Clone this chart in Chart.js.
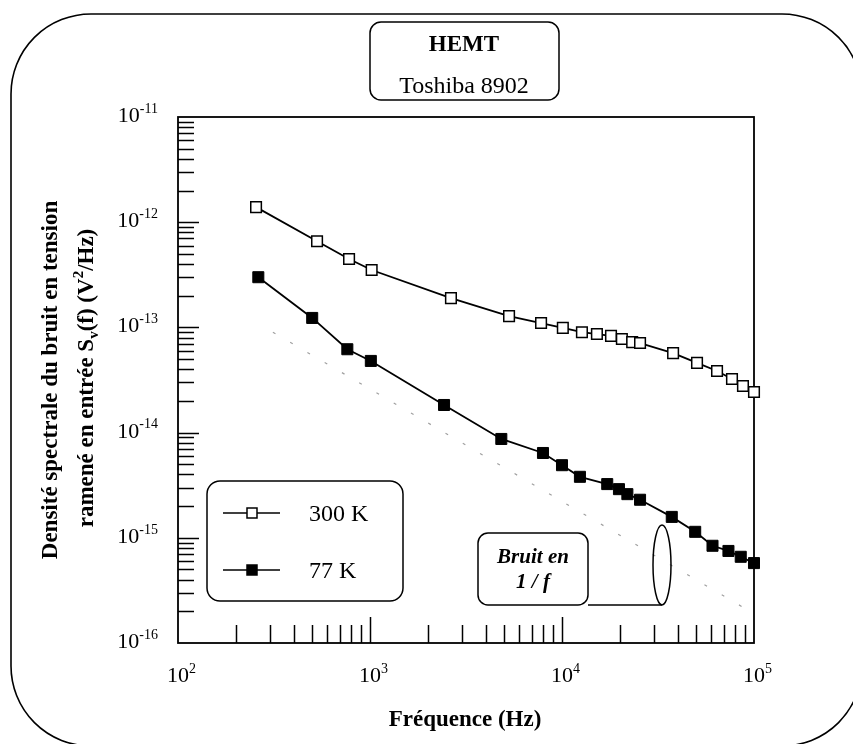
<!DOCTYPE html>
<html>
<head>
<meta charset="utf-8">
<script src="https://cdn.jsdelivr.net/npm/chart.js@4.4.1/dist/chart.umd.min.js"></script>
<style>
  html, body { margin: 0; padding: 0; background: #fff; }
  canvas { display: block; }
</style>
</head>
<body>
<canvas id="c" width="853" height="744"></canvas>
<script>
// HEMT Toshiba 8902 - input voltage noise spectral density
const freq300 = [255, 530, 778, 1020, 2640, 5300, 7780, 10100, 12700, 15200, 18000, 20500, 23200, 25500, 37900, 50500, 64200, 76800, 87600, 100000];
const sv300 = [1.39e-12, 6.6e-13, 4.47e-13, 3.51e-13, 1.9e-13, 1.28e-13, 1.1e-13, 9.9e-14, 9.0e-14, 8.65e-14, 8.3e-14, 7.75e-14, 7.25e-14, 7.1e-14, 5.7e-14, 4.6e-14, 3.85e-14, 3.23e-14, 2.77e-14, 2.43e-14];

const freq77 = [262, 500, 762, 1010, 2430, 4830, 7960, 10000, 12400, 17200, 19800, 21900, 25500, 37300, 49400, 60800, 73600, 85300, 100000];
const sv77 = [3.0e-13, 1.23e-13, 6.2e-14, 4.8e-14, 1.83e-14, 8.7e-15, 6.4e-15, 4.9e-15, 3.8e-15, 3.24e-15, 2.9e-15, 2.6e-15, 2.3e-15, 1.58e-15, 1.14e-15, 8.4e-16, 7.5e-16, 6.6e-16, 5.75e-16];

// 1/f guide line (dotted)
const guideFreq = [312, 100000];
const guideSv = [9.0e-14, 1.9e-16];

const xTickExp = [2, 3, 4, 5];
const yTickExp = [-11, -12, -13, -14, -15, -16];

const serif = '"Liberation Serif", "Times New Roman", Times, serif';

function pts(xs, ys) { return xs.map((x, i) => ({ x: x, y: ys[i] })); }

function rrect(ctx, x, y, w, h, r) {
  ctx.beginPath();
  ctx.moveTo(x + r, y);
  ctx.arcTo(x + w, y, x + w, y + h, r);
  ctx.arcTo(x + w, y + h, x, y + h, r);
  ctx.arcTo(x, y + h, x, y, r);
  ctx.arcTo(x, y, x + w, y, r);
  ctx.closePath();
}

// parts: [text, kind] kind 0 normal, 1 superscript, -1 subscript
function rich(ctx, parts, x, y, size, opts) {
  opts = opts || {};
  const f = s => (opts.italic ? 'italic ' : '') + (opts.bold ? 'bold ' : '') + s + 'px ' + serif;
  const small = Math.round(size * 0.64);
  let total = 0;
  parts.forEach(p => { ctx.font = f(p[1] ? small : size); total += ctx.measureText(p[0]).width; });
  let cx = opts.align === 'center' ? x - total / 2 : opts.align === 'right' ? x - total : x;
  ctx.textAlign = 'left';
  ctx.textBaseline = 'alphabetic';
  parts.forEach(p => {
    ctx.font = f(p[1] ? small : size);
    const dy = p[1] === 1 ? -size * 0.42 : p[1] === -1 ? size * 0.2 : 0;
    ctx.fillText(p[0], cx, y + dy);
    cx += ctx.measureText(p[0]).width;
  });
}

function marker(ctx, x, y, filled) {
  ctx.beginPath();
  ctx.rect(x - 5, y - 5, 10, 10);
  ctx.fillStyle = filled ? '#000' : '#fff';
  ctx.fill();
  ctx.lineWidth = 1.5;
  ctx.strokeStyle = '#000';
  ctx.stroke();
}

const figure = {
  id: 'figure',
  beforeDatasetsDraw(chart) {
    const ctx = chart.ctx, a = chart.chartArea;
    const xs = chart.scales.x, ys = chart.scales.y;
    ctx.save();
    ctx.strokeStyle = '#000';
    ctx.fillStyle = '#000';

    // outer rounded frame
    ctx.lineWidth = 1.6;
    rrect(ctx, 11, 14, 851, 732, 80);
    ctx.stroke();

    // plot frame
    ctx.lineWidth = 1.8;
    ctx.strokeRect(a.left, a.top, a.right - a.left, a.bottom - a.top);

    // inward ticks
    ctx.lineWidth = 1.5;
    ctx.beginPath();
    for (let d = -16; d < -11; d++) {
      for (let m = 1; m <= 9; m++) {
        if (d === -16 && m === 1) continue;
        const py = Math.round(ys.getPixelForValue(m * Math.pow(10, d))) + 0.5;
        const len = m === 1 ? 21 : 16;
        ctx.moveTo(a.left, py);
        ctx.lineTo(a.left + len, py);
      }
    }
    for (let d = 2; d < 5; d++) {
      for (let m = 1; m <= 9; m++) {
        if (d === 2 && m === 1) continue;
        const px = Math.round(xs.getPixelForValue(m * Math.pow(10, d))) + 0.5;
        const len = m === 1 ? 26 : 18;
        ctx.moveTo(px, a.bottom);
        ctx.lineTo(px, a.bottom - len);
      }
    }
    ctx.stroke();

    // tick labels
    ctx.fillStyle = '#000';
    yTickExp.forEach(e => {
      const py = ys.getPixelForValue(Math.pow(10, e));
      rich(ctx, [['10', 0], [String(e), 1]], 158, py + 5, 22, { align: 'right' });
    });
    xTickExp.forEach(e => {
      const px = xs.getPixelForValue(Math.pow(10, e));
      ctx.font = '22px ' + serif;
      const w = ctx.measureText('10').width;
      rich(ctx, [['10', 0], [String(e), 1]], px - w / 2, 682, 22, {});
    });

    // axis titles
    rich(ctx, [['Fréquence (Hz)', 0]], 465, 726, 23, { bold: true, align: 'center' });
    ctx.save();
    ctx.translate(57, 380);
    ctx.rotate(-Math.PI / 2);
    rich(ctx, [['Densité spectrale du bruit en tension', 0]], 0, 0, 23, { bold: true, align: 'center' });
    ctx.restore();
    ctx.save();
    ctx.translate(93, 378);
    ctx.rotate(-Math.PI / 2);
    rich(ctx, [['ramené en entrée S', 0], ['v', -1], ['(f) (V', 0], ['2', 1], ['/Hz)', 0]], 0, 0, 23, { bold: true, align: 'center' });
    ctx.restore();

    // title box
    ctx.lineWidth = 1.5;
    rrect(ctx, 370, 22, 189, 78, 11);
    ctx.stroke();
    rich(ctx, [['HEMT', 0]], 464, 51, 23, { bold: true, align: 'center' });
    rich(ctx, [['Toshiba 8902', 0]], 464, 93, 24, { align: 'center' });

    ctx.restore();
  },
  afterDatasetsDraw(chart) {
    const ctx = chart.ctx;
    ctx.save();
    ctx.strokeStyle = '#000';
    ctx.fillStyle = '#000';

    // legend box
    ctx.lineWidth = 1.5;
    rrect(ctx, 207, 481, 196, 120, 13);
    ctx.fillStyle = '#fff';
    ctx.fill();
    ctx.stroke();
    const entries = [chart.data.datasets[1], chart.data.datasets[2]];
    entries.forEach((ds, i) => {
      const y = 513 + i * 57;
      ctx.lineWidth = 1.4;
      ctx.beginPath();
      ctx.moveTo(223, y);
      ctx.lineTo(280, y);
      ctx.stroke();
      marker(ctx, 252, y, ds.pointBackgroundColor === '#000');
      ctx.fillStyle = '#000';
      rich(ctx, [[ds.label, 0]], 309, y + 8, 24, {});
    });

    // "Bruit en 1/f" callout
    ctx.lineWidth = 1.5;
    rrect(ctx, 478, 533, 110, 72, 10);
    ctx.fillStyle = '#fff';
    ctx.fill();
    ctx.stroke();
    ctx.beginPath();
    ctx.moveTo(588, 605);
    ctx.lineTo(662, 605);
    ctx.stroke();
    ctx.beginPath();
    ctx.ellipse(662, 565, 9, 40, 0, 0, Math.PI * 2);
    ctx.stroke();
    ctx.fillStyle = '#000';
    rich(ctx, [['Bruit en', 0]], 533, 563, 21, { bold: true, italic: true, align: 'center' });
    rich(ctx, [['1 / f', 0]], 533, 588, 21, { bold: true, italic: true, align: 'center' });

    ctx.restore();
  }
};

new Chart(document.getElementById('c'), {
  type: 'line',
  data: {
    datasets: [
      {
        label: '1/f',
        data: pts(guideFreq, guideSv),
        borderColor: '#a0a0a0',
        borderWidth: 1.2,
        borderDash: [3, 17],
        pointRadius: 0,
        fill: false
      },
      {
        label: '300 K',
        data: pts(freq300, sv300),
        borderColor: '#000',
        borderWidth: 1.8,
        pointStyle: 'rect',
        pointRadius: 7.5,
        pointBorderWidth: 1.5,
        pointBorderColor: '#000',
        pointBackgroundColor: '#fff',
        fill: false,
        clip: false
      },
      {
        label: '77 K',
        data: pts(freq77, sv77),
        borderColor: '#000',
        borderWidth: 1.8,
        pointStyle: 'rect',
        pointRadius: 7.8,
        pointBorderWidth: 1,
        pointBorderColor: '#000',
        pointBackgroundColor: '#000',
        fill: false,
        clip: false
      }
    ]
  },
  options: {
    responsive: false,
    animation: false,
    devicePixelRatio: 1,
    layout: { padding: { left: 178, right: 99, top: 117, bottom: 101 } },
    plugins: { legend: { display: false }, tooltip: { enabled: false } },
    scales: {
      x: { type: 'logarithmic', min: 100, max: 100000, display: false },
      y: { type: 'logarithmic', min: 1e-16, max: 1e-11, display: false }
    }
  },
  plugins: [figure]
});
</script>
</body>
</html>
